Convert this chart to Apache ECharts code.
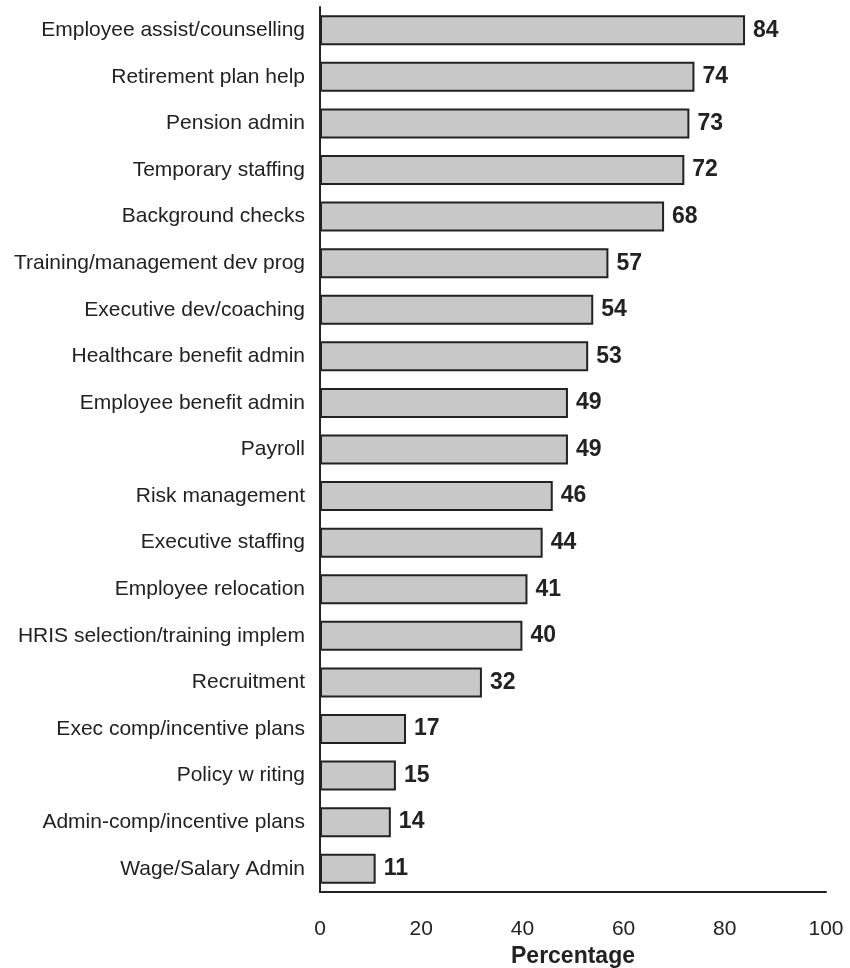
<!DOCTYPE html>
<html>
<head>
<meta charset="utf-8">
<script src="https://cdn.jsdelivr.net/npm/echarts@6/dist/echarts.min.js"></script>
<style>
  html, body { margin: 0; padding: 0; background: #fff; }
  #chart { width: 850px; height: 968px; }
</style>
</head>
<body>
<div id="chart"></div>
<script>
// HR services outsourced, share of respondents (top to bottom)
const categories = [
  'Employee assist/counselling',
  'Retirement plan help',
  'Pension admin',
  'Temporary staffing',
  'Background checks',
  'Training/management dev prog',
  'Executive dev/coaching',
  'Healthcare benefit admin',
  'Employee benefit admin',
  'Payroll',
  'Risk management',
  'Executive staffing',
  'Employee relocation',
  'HRIS selection/training implem',
  'Recruitment',
  'Exec comp/incentive plans',
  'Policy w riting',
  'Admin-comp/incentive plans',
  'Wage/Salary Admin'
];
const values = [84, 74, 73, 72, 68, 57, 54, 53, 49, 49, 46, 44, 41, 40, 32, 17, 15, 14, 11];
const xTicks = [0, 20, 40, 60, 80, 100];

const chart = echarts.init(document.getElementById('chart'));
chart.setOption({
  animation: false,
  backgroundColor: '#ffffff',
  grid: { left: 320, right: 24, top: 7, bottom: 76, containLabel: false, outerBoundsMode: 'none' },
  xAxis: {
    type: 'value',
    min: xTicks[0],
    max: xTicks[xTicks.length - 1],
    interval: 20,
    name: 'Percentage',
    nameLocation: 'middle',
    nameGap: 50,
    nameTextStyle: { fontFamily: 'Liberation Sans', fontSize: 23, fontWeight: 'bold', color: '#222' },
    axisLine: { show: true, lineStyle: { color: '#222', width: 2 } },
    axisTick: { show: false },
    splitLine: { show: false },
    axisLabel: { margin: 27, fontFamily: 'Liberation Sans', fontSize: 21, color: '#222' }
  },
  yAxis: {
    type: 'category',
    inverse: true,
    data: categories,
    axisLine: { show: true, lineStyle: { color: '#222', width: 2 } },
    axisTick: { show: false },
    axisLabel: { margin: 15, fontFamily: 'Liberation Sans', fontSize: 21, color: '#222' }
  },
  series: [{
    type: 'bar',
    data: values,
    barCategoryGap: '35.6%',
    itemStyle: { color: '#c8c8c8', borderColor: '#222', borderWidth: 2 },
    label: {
      show: true,
      position: 'right',
      distance: 8,
      fontFamily: 'Liberation Sans',
      fontSize: 23,
      fontWeight: 'bold',
      color: '#222'
    }
  }]
});
</script>
</body>
</html>
